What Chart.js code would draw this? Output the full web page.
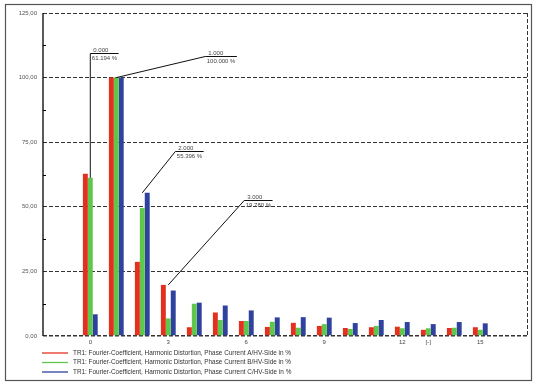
<!DOCTYPE html>
<html><head><meta charset="utf-8">
<script src="https://cdn.jsdelivr.net/npm/chart.js@4/dist/chart.umd.min.js"></script>
<style>html,body{margin:0;padding:0;background:#fff;}canvas{display:block;}</style>
</head><body>
<canvas id="c" width="534" height="382"></canvas>
<script>
// ---- data ----
const categories = [0,1,2,3,4,5,6,7,8,9,10,11,12,13,14,15];
const phaseA = [62.8, 100, 28.7, 19.78, 3.4, 9.1, 5.8, 3.5, 5.1, 3.9, 3.1, 3.4, 3.6, 2.4, 3.1, 3.4];
const phaseB = [61.194, 100, 49.5, 6.8, 12.5, 6.2, 5.8, 5.5, 3.2, 4.6, 2.7, 3.9, 3.0, 3.0, 3.2, 2.4];
const phaseC = [8.4, 100, 55.396, 17.6, 12.9, 11.8, 9.9, 7.2, 7.3, 7.1, 5.0, 6.2, 5.4, 4.6, 5.4, 4.9];
const seriesLabels = [
  'TR1: Fourier-Coefficient, Harmonic Distortion, Phase Current A/HV-Side in %',
  'TR1: Fourier-Coefficient, Harmonic Distortion, Phase Current B/HV-Side in %',
  'TR1: Fourier-Coefficient, Harmonic Distortion, Phase Current C/HV-Side in %'
];
const seriesColors = ['#e2321f', '#5fc84c', '#2e429e'];
const xTickValues = [0, 3, 6, 9, 12, 13, 15];
const xTickLabels = ['0', '3', '6', '9', '12', '[-]', '15'];
const yTickValues = [0, 25, 50, 75, 100, 125];
const yMinorTicks = [12.5, 37.5, 62.5, 87.5, 112.5];
// callouts: category, value pointed at, label anchor (in axis units)
const annotCats = [0, 1, 2, 3];
const annotValues = [61.194, 100, 55.396, 19.78];
const annotLabelX = [0, 4.42, 3.27, 5.92];
const annotLabelY = [109.5, 108.4, 71.6, 52.8];

const FONT = '"Liberation Sans", Arial, sans-serif';

const mk = (i, vals) => ({
  label: seriesLabels[i],
  data: categories.map((c, k) => ({x: c, y: vals[k]})),
  backgroundColor: seriesColors[i],
  borderWidth: 0,
  categoryPercentage: 0.57,
  barPercentage: 1.0
});

const framePlugin = {
  id: 'frame',
  beforeDraw(chart) {
    const ctx = chart.ctx;
    ctx.save();
    ctx.fillStyle = '#fff';
    ctx.fillRect(0, 0, chart.width, chart.height);
    ctx.strokeStyle = '#555';
    ctx.lineWidth = 1.2;
    ctx.strokeRect(5.5, 4.5, 526, 376);
    ctx.restore();
  },
  afterDatasetsDraw(chart) {
    const {ctx, chartArea: a, scales: {y}} = chart;
    ctx.save();
    // right dashed border
    ctx.strokeStyle = '#333';
    ctx.lineWidth = 1;
    ctx.setLineDash([4, 2]);
    ctx.beginPath();
    ctx.moveTo(Math.round(a.right) - 0.5, a.top);
    ctx.lineTo(Math.round(a.right) - 0.5, a.bottom);
    ctx.stroke();
    ctx.setLineDash([]);
    // solid y axis line
    ctx.strokeStyle = '#000';
    ctx.lineWidth = 1.3;
    ctx.beginPath();
    ctx.moveTo(Math.round(a.left), a.top);
    ctx.lineTo(Math.round(a.left), a.bottom);
    ctx.stroke();
    // minor ticks on y axis
    ctx.lineWidth = 1;
    yMinorTicks.forEach(v => {
      const py = Math.round(y.getPixelForValue(v)) + 0.5;
      ctx.beginPath();
      ctx.moveTo(a.left, py);
      ctx.lineTo(a.left + 3, py);
      ctx.stroke();
    });
    // callouts
    const x = chart.scales.x;
    ctx.font = '6px ' + FONT;
    annotCats.forEach((c, i) => {
      const px = x.getPixelForValue(c), py = y.getPixelForValue(annotValues[i]);
      const lx = x.getPixelForValue(annotLabelX[i]), ly = Math.round(y.getPixelForValue(annotLabelY[i])) + 0.5;
      const t1 = c.toFixed(3), t2 = annotValues[i].toFixed(3) + ' %';
      const w = Math.max(ctx.measureText(t1).width, ctx.measureText(t2).width) + 3;
      ctx.strokeStyle = '#111';
      ctx.lineWidth = 1;
      ctx.beginPath();
      ctx.moveTo(px, py);
      ctx.lineTo(lx, ly);
      ctx.lineTo(lx + w, ly);
      ctx.stroke();
      ctx.fillStyle = '#444';
      ctx.textAlign = 'left';
      ctx.textBaseline = 'alphabetic';
      ctx.fillText(t1, lx + 3, ly - 1.5);
      ctx.textBaseline = 'top';
      ctx.fillText(t2, lx + 1.5, ly + 1.5);
    });
    ctx.restore();
  },
  afterDraw(chart) {
    const ctx = chart.ctx;
    ctx.save();
    ctx.font = '6.4px ' + FONT;
    ctx.textBaseline = 'middle';
    ctx.textAlign = 'left';
    chart.data.datasets.forEach((d, i) => {
      const ry = 353 + i * 9.5;
      ctx.strokeStyle = d.backgroundColor;
      ctx.lineWidth = 1.3;
      ctx.beginPath();
      ctx.moveTo(42, ry);
      ctx.lineTo(68, ry);
      ctx.stroke();
      ctx.fillStyle = '#333';
      ctx.fillText(d.label, 73, ry);
    });
    ctx.restore();
  }
};

new Chart(document.getElementById('c'), {
  type: 'bar',
  data: {datasets: [mk(0, phaseA), mk(1, phaseB), mk(2, phaseC)]},
  plugins: [framePlugin],
  options: {
    responsive: false,
    animation: false,
    layout: {padding: {left: 0, right: 6, top: 13, bottom: 0}},
    plugins: {legend: {display: false}, tooltip: {enabled: false}},
    scales: {
      x: {
        type: 'linear',
        min: -1.819, max: 16.835,
        offset: false,
        grid: {display: false, drawTicks: false},
        border: {display: false},
        afterBuildTicks: s => { s.ticks = xTickValues.map(v => ({value: v})); },
        afterFit: s => { s.height = 46; },
        ticks: {
          padding: 3, color: '#444', autoSkip: false, maxRotation: 0,
          font: {size: 6, family: FONT},
          callback: v => { const k = xTickValues.indexOf(v); return k >= 0 ? xTickLabels[k] : ''; }
        }
      },
      y: {
        min: 0, max: 125,
        afterBuildTicks: s => { s.ticks = yTickValues.map(v => ({value: v})); },
        afterFit: s => { s.width = 43; },
        grid: {color: '#333', drawTicks: false, lineWidth: c => (c.tick && c.tick.value === 0 ? 1.5 : 1)},
        border: {display: false, dash: [4, 2]},
        ticks: {
          padding: 6, color: '#555',
          font: {size: 6, family: FONT},
          callback: v => v.toFixed(2).replace('.', ',')
        }
      }
    }
  }
});
</script>
</body></html>
